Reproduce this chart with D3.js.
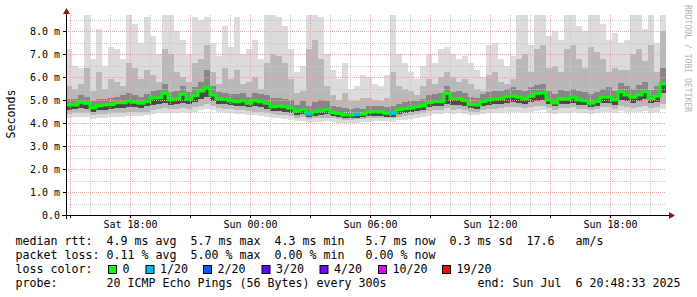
<!DOCTYPE html>
<html><head><meta charset="utf-8">
<script src="https://cdn.jsdelivr.net/npm/d3@7"></script>
<style>
body{margin:0;background:#fff}
svg{display:block}
text{font-family:"DejaVu Sans Mono",monospace;fill:#000}
</style>
</head><body>
<svg id="chart" width="697" height="297"></svg>
<script>
// ---- data (ms), one sample every 1080 s over 30 h ----
const endTime = new Date(2025, 6, 6, 20, 48, 33);
const spanHours = 30;
const stepSeconds = 1080;

const medianRtt = [
4.78,4.78,4.90,4.86,4.67,4.75,4.78,4.81,4.88,4.88,
4.95,4.91,4.86,4.94,5.09,5.10,5.30,5.01,5.06,5.25,
5.03,5.20,5.39,5.55,5.22,5.06,5.03,4.97,4.93,4.97,
4.86,4.98,4.93,4.86,4.71,4.74,4.71,4.64,4.51,4.58,
4.39,4.49,4.54,4.58,4.46,4.41,4.35,4.35,4.38,4.38,
4.48,4.49,4.48,4.43,4.43,4.58,4.62,4.65,4.71,4.75,
4.88,4.93,4.93,5.29,5.06,5.07,4.98,4.81,4.78,4.94,
5.00,5.04,5.07,5.14,5.17,5.12,5.06,5.17,5.29,5.32,
5.00,4.87,5.07,5.03,5.12,5.00,4.97,4.86,4.94,5.12,
5.12,5.00,5.36,5.22,5.12,5.22,5.36,5.07,5.17,5.70];

const lostPings = [
0,0,0,0,0,0,0,0,0,0, 0,0,0,0,0,0,0,0,0,0,
0,0,0,0,0,0,0,0,0,0, 0,0,0,0,0,0,0,0,0,0,
1,0,0,0,0,0,0,0,1,0, 0,0,0,0,1,0,0,0,0,0,
0,0,0,0,0,0,0,0,0,0, 0,0,0,0,0,0,0,0,0,0,
0,0,0,0,0,0,0,0,0,0, 0,0,0,0,0,0,0,0,0,0];

const pingMin = [
4.22,4.25,4.28,4.25,4.18,4.20,4.22,4.25,4.27,4.28,
4.30,4.32,4.30,4.33,4.40,4.42,4.45,4.42,4.45,4.48,
4.45,4.50,4.55,4.60,4.55,4.48,4.45,4.42,4.40,4.38,
4.35,4.33,4.30,4.28,4.22,4.20,4.18,4.15,4.10,4.10,
4.02,4.05,4.06,4.08,4.05,4.02,4.00,4.00,4.02,4.03,
4.05,4.07,4.08,4.08,4.06,4.12,4.15,4.18,4.22,4.25,
4.32,4.38,4.40,4.42,4.40,4.42,4.40,4.35,4.33,4.38,
4.42,4.45,4.45,4.48,4.50,4.48,4.45,4.48,4.52,4.55,
4.45,4.40,4.45,4.45,4.48,4.45,4.42,4.40,4.42,4.48,
4.48,4.45,4.52,4.50,4.48,4.50,4.52,4.45,4.48,4.60];

const pingLow = [
4.40,4.42,4.45,4.42,4.35,4.38,4.40,4.42,4.45,4.45,
4.48,4.50,4.48,4.50,4.58,4.60,4.65,4.60,4.62,4.66,
4.62,4.68,4.75,4.82,4.74,4.65,4.62,4.60,4.58,4.56,
4.52,4.50,4.48,4.45,4.38,4.36,4.34,4.30,4.24,4.25,
4.16,4.20,4.22,4.24,4.20,4.17,4.14,4.14,4.16,4.17,
4.20,4.22,4.22,4.20,4.20,4.28,4.32,4.35,4.40,4.43,
4.52,4.56,4.58,4.65,4.58,4.60,4.56,4.50,4.48,4.55,
4.60,4.63,4.65,4.68,4.70,4.68,4.64,4.68,4.74,4.76,
4.64,4.57,4.64,4.64,4.68,4.63,4.60,4.57,4.60,4.68,
4.68,4.63,4.72,4.70,4.67,4.70,4.74,4.64,4.68,4.85];

const pingDarkLow = [
4.58,4.60,4.65,4.62,4.50,4.55,4.58,4.60,4.65,4.66,
4.70,4.70,4.66,4.72,4.80,4.84,4.88,4.80,4.82,4.88,
4.82,4.92,5.05,5.15,4.98,4.85,4.82,4.78,4.74,4.75,
4.68,4.72,4.68,4.62,4.52,4.52,4.50,4.45,4.36,4.40,
4.26,4.30,4.34,4.38,4.30,4.26,4.22,4.22,4.24,4.26,
4.30,4.32,4.32,4.28,4.28,4.40,4.45,4.48,4.53,4.58,
4.68,4.72,4.74,4.85,4.78,4.80,4.74,4.64,4.62,4.72,
4.78,4.82,4.84,4.88,4.92,4.88,4.84,4.90,4.98,5.02,
4.82,4.72,4.84,4.82,4.88,4.80,4.78,4.70,4.76,4.88,
4.88,4.80,5.02,4.96,4.88,4.95,5.05,4.86,4.92,5.30];

const pingDarkHigh = [
5.05,5.05,5.20,5.15,4.95,5.05,5.05,5.10,5.15,5.20,
5.30,5.20,5.15,5.25,5.40,5.45,5.70,5.35,5.40,5.60,
5.35,5.55,5.80,6.30,5.60,5.35,5.30,5.25,5.25,5.30,
5.15,5.30,5.25,5.20,5.10,5.10,5.05,5.00,4.80,4.95,
4.75,4.90,5.00,4.95,4.75,4.70,4.65,4.62,4.65,4.62,
4.72,4.75,4.72,4.70,4.75,4.85,4.90,4.95,4.98,5.05,
5.20,5.25,5.30,5.60,5.35,5.40,5.30,5.15,5.10,5.25,
5.35,5.40,5.40,5.50,5.55,5.45,5.40,5.55,5.65,5.70,
5.40,5.25,5.45,5.40,5.50,5.40,5.35,5.25,5.35,5.50,
5.55,5.40,5.75,5.60,5.50,5.65,5.80,5.45,5.60,6.40];

const pingHigh = [
5.60,5.50,5.70,6.40,5.40,6.20,5.50,5.90,5.80,5.60,
6.60,6.40,5.90,6.30,6.10,5.80,7.20,7.00,6.20,6.00,
5.80,6.60,6.80,7.40,6.20,5.70,6.40,5.90,6.30,5.70,
5.80,6.00,5.50,6.60,7.00,6.90,6.60,5.90,5.30,5.40,
7.20,7.60,6.80,5.60,5.20,5.00,5.30,4.95,4.95,5.10,
5.10,5.00,4.95,5.10,6.20,5.60,5.50,5.40,5.20,5.60,
5.90,5.70,6.00,6.20,6.00,5.80,5.90,5.70,5.50,5.40,
6.10,6.20,5.80,5.70,5.90,6.80,7.00,6.20,7.20,7.40,
6.40,6.50,6.20,7.20,7.40,6.80,6.40,7.30,7.10,6.80,
6.20,6.40,6.30,6.30,7.00,7.20,6.70,7.40,6.20,8.00];

const pingMax = [
7.20,6.50,6.40,8.70,6.80,8.10,6.50,7.30,7.20,6.80,
8.70,8.30,7.50,8.60,7.80,7.00,8.70,8.70,8.00,7.60,
7.00,8.60,8.50,8.60,7.50,6.90,8.20,7.30,8.60,7.00,
7.20,7.60,6.80,8.70,8.70,8.60,8.20,7.20,6.20,6.50,
8.70,8.70,8.60,7.00,6.30,5.90,6.60,5.50,5.60,6.10,
6.00,5.70,5.60,6.10,8.70,7.00,6.60,6.20,5.90,6.50,
7.00,6.60,7.20,7.30,7.00,6.80,6.90,6.60,6.30,6.00,
7.40,7.50,6.80,6.50,6.90,8.70,8.70,7.40,8.70,8.70,
7.80,8.00,7.60,8.70,8.70,8.20,8.00,8.70,8.70,8.30,
7.60,7.90,7.50,7.60,8.70,8.70,8.10,8.70,7.50,8.70];

const yTickValues = [0,1,2,3,4,5,6,7,8];
const yTickLabels = ["0.0","1.0 m","2.0 m","3.0 m","4.0 m","5.0 m","6.0 m","7.0 m","8.0 m"];
const xTickLabels = ["Sat 18:00","Sun 00:00","Sun 06:00","Sun 12:00","Sun 18:00"];

const lossLevels = ["0","1/20","2/20","3/20","4/20","10/20","19/20"];
const lossColors = ["#00ff00","#00b8ff","#0059ff","#5e00ff","#7e00ff","#dd00ff","#ff0000"];

const legendLines = [
 "median rtt:  4.9 ms avg  5.7 ms max  4.3 ms min   5.7 ms now  0.3 ms sd  17.6   am/s",
 "packet loss: 0.11 % avg  5.00 % max  0.00 % min   0.00 % now",
 "loss color:",
 "probe:       20 ICMP Echo Pings (56 Bytes) every 300s             end: Sun Jul  6 20:48:33 2025"
];

// ---- drawing ----
const svg = d3.select("#chart");
const start = new Date(endTime.getTime() - spanHours * 3600 * 1000);
const times = medianRtt.map((_, i) => new Date(start.getTime() + i * stepSeconds * 1000));
const x = d3.scaleTime().domain([start, endTime]).range([66, 666]);
const y = d3.scaleLinear().domain([0, 8.7]).range([215, 15]);
const px = v => Math.round(v) + 0.5;

svg.append("rect").attr("width", 697).attr("height", 297).attr("fill", "#fff");

const plot = svg.append("g").attr("shape-rendering", "crispEdges");
function band(lo, hi, color) {
  const pts = lo.map((v, i) => ({t: times[i], a: v, b: hi[i]}));
  pts.push({t: endTime, a: lo[lo.length - 1], b: hi[hi.length - 1]});
  const area = d3.area().x(d => x(d.t)).y0(d => y(d.a)).y1(d => y(d.b)).curve(d3.curveStepAfter);
  plot.append("path").attr("d", area(pts)).attr("fill", color);
}
band(pingMin, pingMax, "#dcdcdc");
band(pingLow, pingHigh, "#b8b8b8");
band(pingDarkLow, pingDarkHigh, "#878787");
band(pingDarkLow, medianRtt, "#4a4a4a");

// grid
const grid = svg.append("g").attr("stroke-dasharray", "1,1").attr("stroke-width", 1);
const minorY = d3.range(0.5, 8.7, 1);
grid.selectAll(".gy").data(minorY).join("line")
  .attr("x1", 66).attr("x2", 666).attr("y1", d => px(y(d))).attr("y2", d => px(y(d)))
  .attr("stroke", "#c8c8c8");
const hours = d3.timeHour.range(start, endTime);
grid.selectAll(".gx").data(hours.filter(h => h.getHours() % 3 !== 0)).join("line")
  .attr("x1", d => px(x(d))).attr("x2", d => px(x(d))).attr("y1", 15).attr("y2", 215)
  .attr("stroke", "#c8c8c8");
grid.selectAll(".My").data(yTickValues.slice(1)).join("line")
  .attr("x1", 66).attr("x2", 666).attr("y1", d => px(y(d))).attr("y2", d => px(y(d)))
  .attr("stroke", "#e4a4a4");
grid.selectAll(".Mx").data(hours.filter(h => h.getHours() % 3 === 0)).join("line")
  .attr("x1", d => px(x(d))).attr("x2", d => px(x(d))).attr("y1", 15).attr("y2", 215)
  .attr("stroke", "#e4a4a4");

// median line
const medPts = medianRtt.map((v, i) => ({t: times[i], v}));
medPts.push({t: endTime, v: medianRtt[medianRtt.length - 1]});
const line = d3.line().x(d => x(d.t)).y(d => y(d.v)).curve(d3.curveStepAfter);
svg.append("path").attr("d", line(medPts)).attr("fill", "none")
  .attr("stroke", lossColors[0]).attr("stroke-width", 3);
medianRtt.forEach((v, i) => {
  if (lostPings[i] > 0) {
    const lvl = lossLevels.findIndex(l => l === lostPings[i] + "/20");
    svg.append("line")
      .attr("x1", x(times[i])).attr("x2", x(i + 1 < times.length ? times[i + 1] : endTime))
      .attr("y1", y(v)).attr("y2", y(v))
      .attr("stroke", lossColors[lvl >= 0 ? lvl : 1]).attr("stroke-width", 3);
  }
});

// axes
const ax = svg.append("g").attr("stroke", "#000").attr("stroke-width", 1);
ax.append("line").attr("x1", 62).attr("x2", 670).attr("y1", 215.5).attr("y2", 215.5);
ax.append("line").attr("x1", 66.5).attr("x2", 66.5).attr("y1", 219).attr("y2", 12);
ax.selectAll(".ty").data(yTickValues).join("line")
  .attr("x1", 63).attr("x2", 66).attr("y1", d => px(y(d))).attr("y2", d => px(y(d)));
ax.selectAll(".tx").data(hours.filter(h => h.getHours() % 3 === 0)).join("line")
  .attr("x1", d => px(x(d))).attr("x2", d => px(x(d))).attr("y1", 215).attr("y2", 218);
svg.append("path").attr("d", "M66.5,8 L63,14 L70,14 Z").attr("fill", "#a01010");
svg.append("path").attr("d", "M675,215.5 L669,212 L669,219 Z").attr("fill", "#a01010");

// tick labels
svg.selectAll(".yl").data(yTickValues).join("text")
  .attr("x", 60).attr("y", d => px(y(d))).attr("dy", "0.36em")
  .attr("text-anchor", "end").attr("font-size", "10px")
  .text((d, i) => yTickLabels[i]);
const sixHours = hours.filter(h => h.getHours() % 6 === 0);
svg.selectAll(".xl").data(sixHours).join("text")
  .attr("x", d => px(x(d))).attr("y", 228).attr("text-anchor", "middle").attr("font-size", "10px")
  .text((d, i) => xTickLabels[i]);

// axis title
svg.append("text").attr("transform", "translate(14.5,114) rotate(-90)")
  .attr("text-anchor", "middle").attr("font-size", "11.6px").text("Seconds");
// watermark
svg.append("text").attr("transform", "translate(685,5) rotate(90)")
  .attr("font-size", "8.1px").style("fill", "#b4b4b4").text("RRDTOOL / TOBI OETIKER");

// legend
const legendBaselines = [245, 259, 273, 287];
legendLines.forEach((s, i) => {
  svg.append("text").attr("x", 15.5).attr("y", legendBaselines[i])
    .attr("font-size", "11.63px").style("white-space", "pre").attr("xml:space", "preserve").text(s);
});
const boxX = [108.5, 146, 203.5, 262, 320, 378.5, 442.5];
lossLevels.forEach((l, i) => {
  svg.append("rect").attr("x", boxX[i]).attr("y", 265.5).attr("width", 8).attr("height", 8)
    .attr("fill", lossColors[i]).attr("stroke", "#000").attr("stroke-width", 1);
  svg.append("text").attr("x", boxX[i] + 14).attr("y", 273)
    .attr("font-size", "11.63px").text(l);
});
</script>
</body></html>
